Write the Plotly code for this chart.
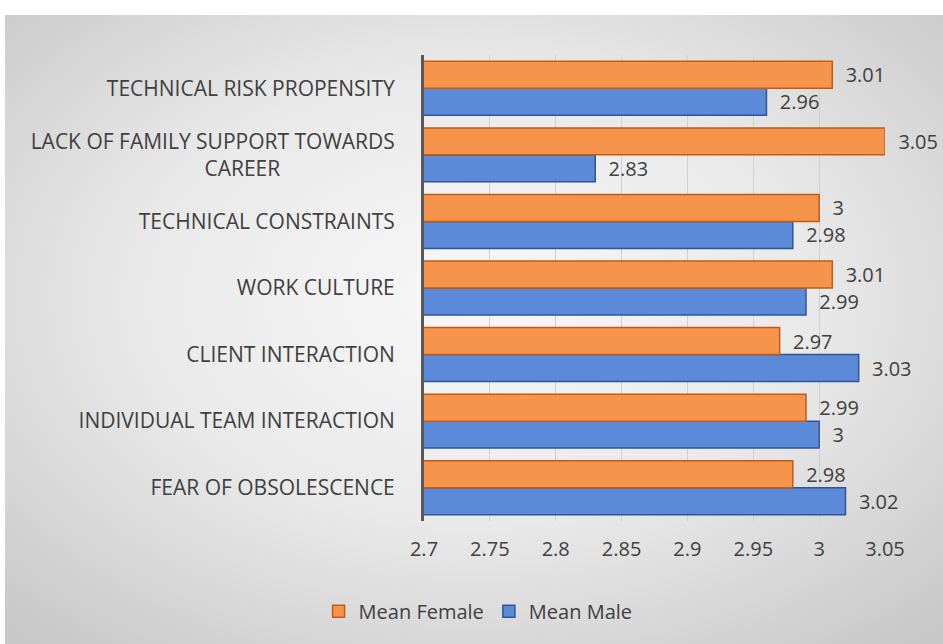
import base64
import plotly.graph_objects as go

# Categories listed bottom-to-top (as drawn on the y axis)
categories = [
    "FEAR OF OBSOLESCENCE",
    "INDIVIDUAL TEAM INTERACTION",
    "CLIENT INTERACTION",
    "WORK CULTURE",
    "TECHNICAL CONSTRAINTS",
    "LACK OF FAMILY SUPPORT TOWARDS CAREER",
    "TECHNICAL RISK PROPENSITY",
]
category_labels = [
    "FEAR OF OBSOLESCENCE",
    "INDIVIDUAL TEAM INTERACTION",
    "CLIENT INTERACTION",
    "WORK CULTURE",
    "TECHNICAL CONSTRAINTS",
    "LACK OF FAMILY SUPPORT TOWARDS<br>CAREER" + "\u00a0" * 21,
    "TECHNICAL RISK PROPENSITY",
]
mean_female = [2.98, 2.99, 2.97, 3.01, 3.00, 3.05, 3.01]
mean_male = [3.02, 3.00, 3.03, 2.99, 2.98, 2.83, 2.96]
x_ticks = [2.7, 2.75, 2.8, 2.85, 2.9, 2.95, 3.0, 3.05]
x_tick_labels = ["2.7", "2.75", "2.8", "2.85", "2.9", "2.95", "3", "3.05"]

W, H = 943, 644
L, R, T, B = 424, 58, 55, 123
pw, ph = W - L - R, H - T - B

svg = (
    '<svg xmlns="http://www.w3.org/2000/svg" width="938" height="629" preserveAspectRatio="none">'
    '<defs><radialGradient id="g" cx="50%" cy="45%" r="72%">'
    '<stop offset="0%" stop-color="#f8f8f8"/>'
    '<stop offset="50%" stop-color="#e9e9e9"/>'
    '<stop offset="100%" stop-color="#c8c8c8"/>'
    '</radialGradient></defs>'
    '<rect width="938" height="629" fill="url(#g)"/></svg>'
)
src = "data:image/svg+xml;base64," + base64.b64encode(svg.encode()).decode()

FONT = "Open Sans, Noto Sans, sans-serif"
label_font = dict(family=FONT, size=20, color="#404040")

fig = go.Figure()
fig.add_trace(go.Bar(
    y=categories, x=mean_male, orientation="h", name="Mean Male",
    marker=dict(color="#5a8ad8", line=dict(color="#2f5597", width=1.5)),
    texttemplate="  %{x}", textposition="outside", cliponaxis=False,
    textfont=label_font, legendrank=2,
))
fig.add_trace(go.Bar(
    y=categories, x=mean_female, orientation="h", name="Mean Female",
    marker=dict(color="#f5944a", line=dict(color="#c55a11", width=1.5)),
    texttemplate="  %{x}", textposition="outside", cliponaxis=False,
    textfont=label_font, legendrank=1,
))

fig.update_layout(
    width=W, height=H,
    margin=dict(l=L, r=R, t=T, b=B, pad=0),
    paper_bgcolor="white",
    plot_bgcolor="rgba(255,255,255,0.25)",
    barmode="group",
    bargap=0.19,
    bargroupgap=0.0,
    font=label_font,
    showlegend=True,
    legend=dict(
        orientation="h", xref="container", yref="container",
        x=0.507, xanchor="center", y=0.051, yanchor="middle",
        font=dict(family=FONT, size=20, color="#404040"),
        bgcolor="rgba(0,0,0,0)",
    ),
    images=[dict(
        source=src, xref="paper", yref="paper",
        x=(5 - L) / pw, y=(T + ph - 15) / ph,
        sizex=938 / pw, sizey=629 / ph,
        xanchor="left", yanchor="top", sizing="stretch", layer="below",
    )],
    xaxis=dict(
        range=[2.7, 3.05], tickvals=x_ticks, ticktext=x_tick_labels,
        showgrid=True, gridcolor="#d0d0d0", gridwidth=1,
        zeroline=False, showline=False, ticks="",
        tickfont=dict(family=FONT, size=20, color="#404040"),
        ticklabelstandoff=14,
    ),
    yaxis=dict(
        showgrid=False, zeroline=False,
        showline=True, linecolor="#595959", linewidth=3,
        ticks="", ticklabelstandoff=22,
        tickmode="array", tickvals=categories, ticktext=category_labels,
        tickfont=dict(family=FONT, size=21, color="#404040"),
    ),
)

fig.write_html("out.html")
